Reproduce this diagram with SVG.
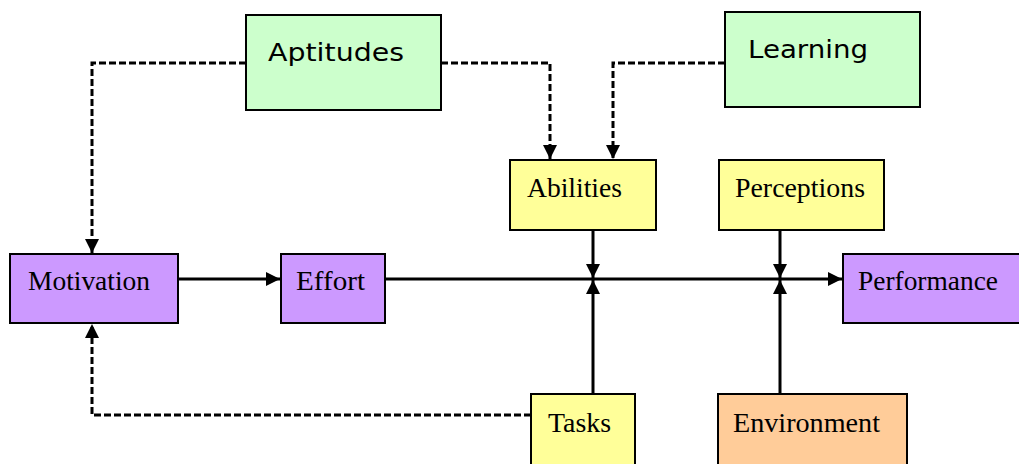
<svg xmlns="http://www.w3.org/2000/svg" width="1019" height="464" viewBox="0 0 1019 464">
<style>
.box{stroke:#000;stroke-width:2}
.g{fill:#CCFFCC}.y{fill:#FFFF99}.p{fill:#CC99FF}.o{fill:#FFCC99}
.s{font-family:"DejaVu Sans",Verdana,sans-serif;font-size:24px;fill:#000}
.t{font-family:"Liberation Serif","Times New Roman",serif;font-size:28px;fill:#000}
.solid{stroke:#000;stroke-width:3;fill:none}
.dash{stroke:#000;stroke-width:3;fill:none;stroke-dasharray:7 3}
</style>
<defs>
<marker id="ah" viewBox="0 0 14 14" refX="14" refY="7" markerWidth="14" markerHeight="14" markerUnits="userSpaceOnUse" orient="auto">
<path d="M0,0 L14,7 L0,14 Z" fill="#000"/>
</marker>
</defs>
<g id="connectors">
<path class="solid" d="M178,279 H280" marker-end="url(#ah)"/>
<path class="solid" d="M385,279 H842" marker-end="url(#ah)"/>
<path class="solid" d="M593,230 V278" marker-end="url(#ah)"/>
<path class="solid" d="M593,394 V280" marker-end="url(#ah)"/>
<path class="solid" d="M780,230 V278" marker-end="url(#ah)"/>
<path class="solid" d="M780,394 V280" marker-end="url(#ah)"/>
<path class="dash" d="M246,63 H92 V253" marker-end="url(#ah)"/>
<path class="dash" d="M441,63 H550 V159" marker-end="url(#ah)"/>
<path class="dash" d="M725,63 H613 V159" marker-end="url(#ah)"/>
<path class="dash" d="M531,415 H92 V324" marker-end="url(#ah)"/>
</g>
<g id="aptitudes"><rect class="box g" x="246" y="15" width="195" height="95"/><text class="s" x="268" y="61" textLength="136" lengthAdjust="spacingAndGlyphs">Aptitudes</text></g>
<g id="learning"><rect class="box g" x="725" y="12" width="195" height="95"/><text class="s" x="748" y="58" textLength="120" lengthAdjust="spacingAndGlyphs">Learning</text></g>
<g id="abilities"><rect class="box y" x="510" y="160" width="146" height="70"/><text class="t" x="527" y="197" textLength="95" lengthAdjust="spacingAndGlyphs">Abilities</text></g>
<g id="perceptions"><rect class="box y" x="719" y="160" width="165" height="70"/><text class="t" x="735" y="197" textLength="130" lengthAdjust="spacingAndGlyphs">Perceptions</text></g>
<g id="motivation"><rect class="box p" x="10" y="254" width="168" height="69"/><text class="t" x="28" y="290" textLength="122" lengthAdjust="spacingAndGlyphs">Motivation</text></g>
<g id="effort"><rect class="box p" x="281" y="254" width="104" height="69"/><text class="t" x="296" y="290" textLength="69" lengthAdjust="spacingAndGlyphs">Effort</text></g>
<g id="performance"><rect class="box p" x="843" y="254" width="180" height="69"/><text class="t" x="858" y="290" textLength="140" lengthAdjust="spacingAndGlyphs">Performance</text></g>
<g id="tasks"><rect class="box y" x="531" y="394" width="104" height="75"/><text class="t" x="548" y="432" textLength="63" lengthAdjust="spacingAndGlyphs">Tasks</text></g>
<g id="environment"><rect class="box o" x="718" y="394" width="189" height="75"/><text class="t" x="733" y="432" textLength="147" lengthAdjust="spacingAndGlyphs">Environment</text></g>
</svg>
